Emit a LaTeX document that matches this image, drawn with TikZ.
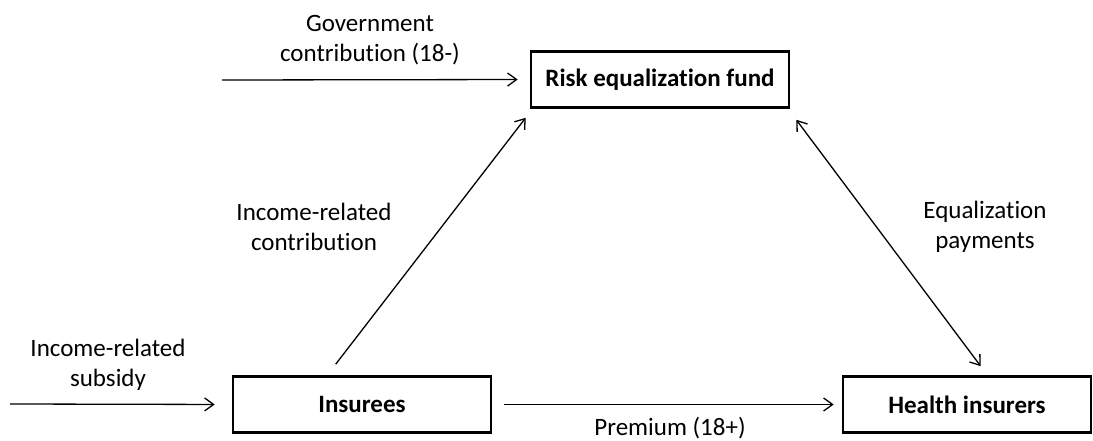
\documentclass[tikz,border=0pt]{standalone}
\usepackage{fontspec}
\setmainfont[Ligatures=NoCommon]{Carlito}
\usetikzlibrary{arrows.meta,calc}
\tikzset{
  box/.style={draw, line width=2.6pt, inner sep=0pt, minimum height=56pt,
    font=\fontsize{25}{30}\selectfont\bfseries},
  lbl/.style={align=center, inner sep=0pt, font=\fontsize{25}{30}\selectfont},
  flow/.style={line width=1.3pt, -{Straight Barb[length=9pt,width=13pt,line width=1.3pt]}},
  both/.style={line width=1.3pt, {Straight Barb[length=9pt,width=13pt,line width=1.3pt]}-{Straight Barb[length=9pt,width=13pt,line width=1.3pt]}}
}
\begin{document}
\begin{tikzpicture}[x=1pt,y=-1pt]
\useasboundingbox (0,0) rectangle (1093,441);

% the three actors
\node[box, minimum width=258pt] (fund) at (660,79.5) {Risk equalization fund};
\node[box, minimum width=258pt] (ins) at (362,404.5) {Insurees};
\node[box, minimum width=248pt] (hi) at (967,404.5) {Health insurers};

% free ends of the incoming flows
\coordinate (govsrc) at (222,80);
\coordinate (subsrc) at (10,404);

% flows
\draw[flow, shorten >=12pt] (govsrc) -- (fund.west);
\draw[flow, shorten >=17pt] (subsrc) -- (ins.west);
\draw[flow, shorten <=12pt, shorten >=8pt] (ins.east) -- (hi.west);
\draw[flow] ($(ins.north west)+(104,-11)$) -- ($(fund.south west)+(-4,9)$);
\draw[both] ($(fund.south east)+(6,11)$) -- ($(hi.north west)+(139,-9)$);

% flow labels
\node[lbl] (govlbl) at (370,40) {Government\\contribution (18-)};
\node[lbl] (irc) at (314,227) {Income-related\\contribution};
\node[lbl] (eqp) at (985,227) {Equalization\\payments};
\node[lbl] (subs) at (108,365) {Income-related\\subsidy};
\node[lbl] (prem) at (670,428) {Premium (18+)};
\end{tikzpicture}
\end{document}
